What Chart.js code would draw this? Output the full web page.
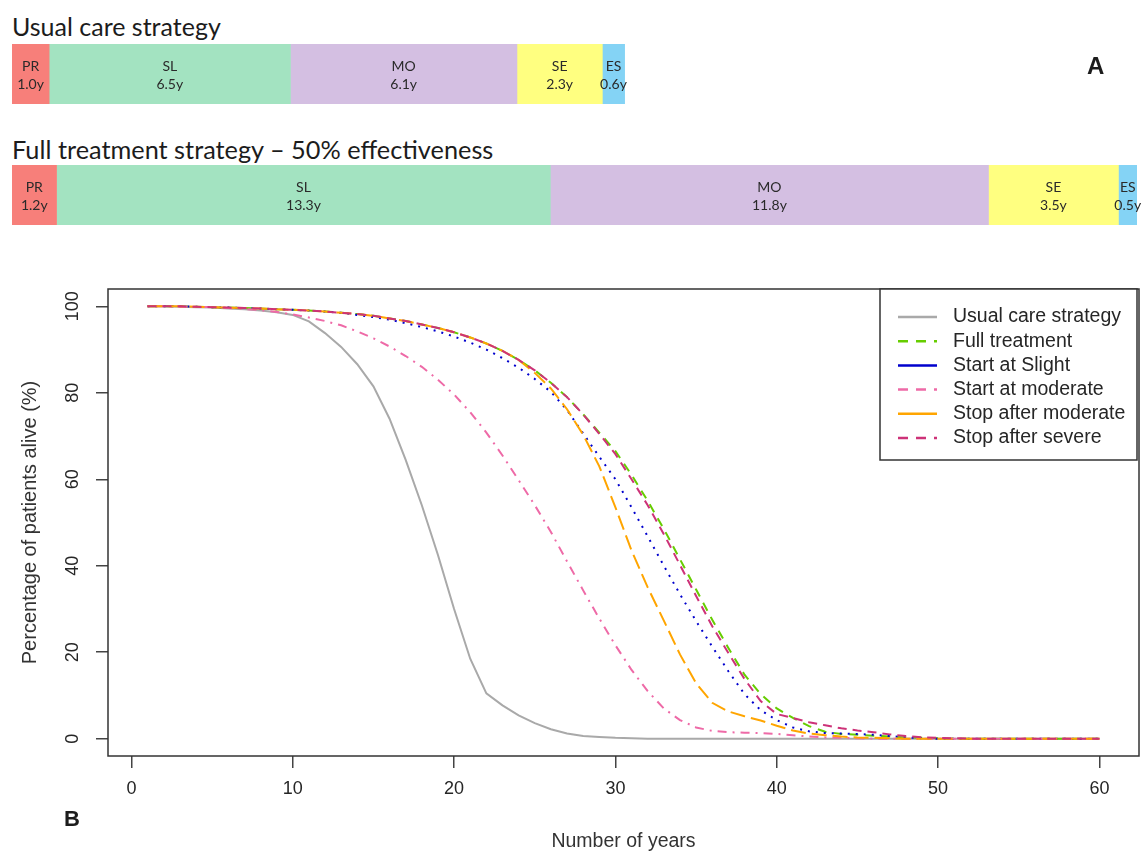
<!DOCTYPE html>
<html><head><meta charset="utf-8">
<script src="https://cdn.jsdelivr.net/npm/chart.js@4.4.1/dist/chart.umd.min.js"></script>
<style>
html,body{margin:0;padding:0;background:#fff;}
#page{position:relative;width:1143px;height:853px;overflow:hidden;background:#fff;}
.t{position:absolute;white-space:nowrap;color:#1c1c1c;line-height:1;}
canvas{position:absolute;}
</style></head><body>
<div id="page">
<div class="t" style="left:12px;top:11px;font:25px Lato;">Usual care strategy</div>
<canvas id="bar1" width="1131" height="60" style="left:12px;top:44px"></canvas>
<div class="t" style="left:12px;top:134px;font:25.3px Lato;">Full treatment strategy – 50% effectiveness</div>
<canvas id="bar2" width="1131" height="60" style="left:12px;top:165px"></canvas>
<div class="t" style="left:1087px;top:52px;font:bold 24px 'Liberation Sans';">A</div>
<canvas id="main" width="1143" height="613" style="left:0;top:240px"></canvas>
<div class="t" style="left:64px;top:806px;font:bold 22px 'Liberation Sans';">B</div>
</div>
<script>
// ---- Panel A data ----
const stages = ['PR', 'SL', 'MO', 'SE', 'ES'];
const usualCareYears = [1.0, 6.5, 6.1, 2.3, 0.6];
const fullTreatmentYears = [1.2, 13.3, 11.8, 3.5, 0.5];
const stageColors = ['#F77F7A', '#A3E3C1', '#D4BFE2', '#FFFF80', '#84D3F5'];

// ---- Panel B data ----
const years = [1,2,3,4,5,6,7,8,9,10,11,12,13,14,15,16,17,18,19,20,21,22,23,24,25,26,27,28,29,30,
  31,32,33,34,35,36,37,38,39,40,41,42,43,44,45,46,47,48,49,50,51,52,53,54,55,56,57,58,59,60];
const xTicks = [0, 10, 20, 30, 40, 50, 60];
const yTicks = [0, 20, 40, 60, 80, 100];
const usualCare = [100,100,99.9,99.8,99.7,99.5,99.3,99.0,98.6,98.0,96.5,93.8,90.6,86.6,81.5,74.0,64.5,54.0,42.5,30.0,
  18.5,10.5,7.7,5.4,3.6,2.2,1.2,0.6,0.4,0.2,0.1,0,0,0,0,0,0,0,0,0,0,0,0,0,0,0,0,0,0,0,0,0,0,0,0,0,0,0,0,0];
const fullTreatment = [100,100,100,99.9,99.8,99.7,99.6,99.5,99.3,99.2,99.0,98.8,98.5,98.2,97.8,97.2,96.6,95.8,95.0,94.0,
  92.8,91.4,89.7,87.6,85.2,82.3,79.0,75.0,70.8,66.5,61.0,55.0,48.5,41.5,34.5,27.5,21.0,14.8,10.3,7.0,
  4.8,2.9,1.6,1.1,0.9,0.7,0.5,0.3,0.2,0.1,0,0,0,0,0,0,0,0,0,0];
const startSlight = [100,100,100,99.9,99.8,99.7,99.6,99.5,99.3,99.2,99.0,98.8,98.5,98.0,97.5,96.9,96.1,95.2,94.2,93.0,
  91.6,90.0,88.0,85.8,83.2,80.2,76.0,70.6,65.2,60.0,53.5,46.8,40.0,33.4,27.2,21.3,15.6,10.3,6.6,4.3,
  2.6,1.7,1.3,1.2,1.1,0.9,0.6,0.3,0.1,0,0,0,0,0,0,0,0,0,0,0];
const startModerate = [100,100,99.9,99.9,99.8,99.6,99.4,99.1,98.7,98.1,97.4,96.6,95.6,94.2,92.6,90.7,88.5,86.0,83.0,79.6,
  75.5,70.8,65.5,59.8,54.0,47.8,41.0,34.3,27.8,21.6,15.9,11.0,7.0,4.3,2.6,1.8,1.5,1.4,1.3,1.1,
  0.8,0.5,0.3,0.2,0.1,0,0,0,0,0,0,0,0,0,0,0,0,0,0,0];
const stopModerate = [100,100,100,99.9,99.8,99.7,99.6,99.5,99.3,99.2,99.0,98.8,98.5,98.2,97.8,97.2,96.6,95.8,95.0,94.0,
  92.8,91.4,89.7,87.6,84.6,81.0,76.2,70.3,63.0,53.5,43.5,35.0,27.3,19.5,12.8,8.3,6.3,5.2,4.2,3.0,
  1.9,1.2,0.8,0.5,0.3,0.2,0.1,0,0,0,0,0,0,0,0,0,0,0,0,0];
const stopSevere = [100,100,100,99.9,99.8,99.7,99.6,99.5,99.3,99.2,99.0,98.8,98.5,98.2,97.8,97.2,96.6,95.8,95.0,94.0,
  92.8,91.4,89.7,87.6,85.2,82.3,79.0,75.0,70.5,65.8,60.0,54.0,47.3,40.2,33.0,26.0,19.8,13.8,8.7,5.7,
  4.8,3.8,3.1,2.4,1.9,1.5,1.0,0.6,0.3,0.2,0.1,0,0,0,0,0,0,0,0,0];
const seriesNames = ['Usual care strategy', 'Full treatment', 'Start at Slight', 'Start at moderate', 'Stop after moderate', 'Stop after severe'];
const seriesValues = [usualCare, fullTreatment, startSlight, startModerate, stopModerate, stopSevere];

// ---- styles ----
const seriesColors = ['#A9A9A9', '#66CD00', '#0000CD', '#EE6AA7', '#FFA500', '#CD3278'];
const seriesDash = [[], [9, 7], [2, 6], [2, 6, 9, 6], [15, 6], [9, 6]];
const legendDash = [[], [10, 8], [], [10, 8], [], [10, 8]];

const stripMax = fullTreatmentYears.reduce((a, b) => a + b, 0);

const segLabels = {
  id: 'segLabels',
  afterDatasetsDraw(chart) {
    const ctx = chart.ctx;
    ctx.save();
    ctx.fillStyle = '#2a2a2a';
    ctx.font = "14px Lato";
    ctx.textAlign = 'center';
    ctx.textBaseline = 'middle';
    chart.data.datasets.forEach((ds, i) => {
      const el = chart.getDatasetMeta(i).data[0];
      const cx = (el.x + el.base) / 2;
      ctx.fillText(ds.label, cx, el.y - 8);
      ctx.fillText(ds.data[0].toFixed(1) + 'y', cx, el.y + 10);
    });
    ctx.restore();
  }
};

function stageChart(id, values) {
  return new Chart(document.getElementById(id), {
    type: 'bar',
    data: {
      labels: [''],
      datasets: stages.map((s, i) => ({
        label: s, data: [values[i]], backgroundColor: stageColors[i],
        borderWidth: 0, barPercentage: 1, categoryPercentage: 1
      }))
    },
    options: {
      indexAxis: 'y', responsive: false, animation: false, events: [],
      layout: { padding: { left: 0, right: 6, top: 0, bottom: 0 } },
      plugins: { legend: { display: false }, tooltip: { enabled: false } },
      scales: {
        x: { stacked: true, min: 0, max: stripMax, display: false },
        y: { stacked: true, display: false }
      }
    },
    plugins: [segLabels]
  });
}
stageChart('bar1', usualCareYears);
stageChart('bar2', fullTreatmentYears);

const frame = {
  id: 'frame',
  afterDatasetsDraw(chart) {
    const { left, top, right, bottom } = chart.chartArea;
    const ctx = chart.ctx;
    ctx.save();
    ctx.strokeStyle = '#333';
    ctx.lineWidth = 1.5;
    ctx.strokeRect(left, top, right - left, bottom - top);
    ctx.restore();
  }
};

const yLabels = {
  id: 'yLabels',
  afterDraw(chart) {
    const s = chart.scales.y, ctx = chart.ctx;
    ctx.save();
    ctx.font = "18px 'Liberation Sans'";
    ctx.fillStyle = '#262626';
    ctx.textAlign = 'center';
    ctx.textBaseline = 'middle';
    s.ticks.forEach(t => {
      const y = s.getPixelForValue(t.value);
      ctx.save();
      ctx.translate(s.right - 35, y);
      ctx.rotate(-Math.PI / 2);
      ctx.fillText(String(t.value), 0, 0);
      ctx.restore();
    });
    ctx.restore();
  }
};

const legendBox = {
  id: 'legendBox',
  afterDraw(chart) {
    const ctx = chart.ctx, ca = chart.chartArea;
    const bx = ca.right - 259, by = ca.top, bw = 257, bh = 171;
    ctx.save();
    ctx.fillStyle = '#fff';
    ctx.fillRect(bx, by, bw, bh);
    ctx.strokeStyle = '#333';
    ctx.lineWidth = 1.5;
    ctx.strokeRect(bx, by, bw, bh);
    ctx.font = "19.5px 'Liberation Sans'";
    ctx.textBaseline = 'middle';
    ctx.textAlign = 'left';
    chart.data.datasets.forEach((ds, i) => {
      const y = by + 28 + i * 24.2;
      ctx.beginPath();
      ctx.setLineDash(legendDash[i]);
      ctx.strokeStyle = ds.borderColor;
      ctx.lineWidth = 2.5;
      ctx.moveTo(bx + 18, y);
      ctx.lineTo(bx + 57, y);
      ctx.stroke();
      ctx.setLineDash([]);
      ctx.fillStyle = '#262626';
      ctx.fillText(ds.label, bx + 73, y);
    });
    ctx.restore();
  }
};

new Chart(document.getElementById('main'), {
  type: 'line',
  data: {
    datasets: seriesNames.map((name, i) => ({
      label: name,
      data: years.map((x, j) => ({ x: x, y: seriesValues[i][j] })),
      borderColor: seriesColors[i],
      backgroundColor: seriesColors[i],
      borderWidth: 2,
      borderDash: seriesDash[i],
      borderCapStyle: 'butt',
      pointRadius: 0,
      tension: 0,
      fill: false,
      order: seriesNames.length - 1 - i
    }))
  },
  options: {
    responsive: false, animation: false, events: [],
    layout: { padding: { top: 49, right: 4, left: 0, bottom: 0 } },
    plugins: { legend: { display: false }, tooltip: { enabled: false } },
    scales: {
      x: {
        type: 'linear', min: -1.45, max: 62.45,
        afterFit(s) { s.height = 97; },
        afterBuildTicks(s) { s.ticks = xTicks.map(v => ({ value: v })); },
        border: { display: false },
        grid: { drawOnChartArea: false, drawTicks: true, tickLength: 12, tickColor: '#444', tickWidth: 1.5, lineWidth: 1.5 },
        ticks: { padding: 10, color: '#262626', font: { family: 'Liberation Sans', size: 18 } },
        title: { display: true, text: 'Number of years', color: '#333', font: { family: 'Liberation Sans', size: 19.5 }, padding: { top: 0, bottom: 0 } }
      },
      y: {
        type: 'linear', min: -4, max: 104,
        afterFit(s) { s.width = 108; },
        afterBuildTicks(s) { s.ticks = yTicks.map(v => ({ value: v })); },
        border: { display: false },
        grid: { drawOnChartArea: false, drawTicks: true, tickLength: 12, tickColor: '#444', tickWidth: 1.5, lineWidth: 1.5 },
        ticks: { display: false },
        title: { display: true, text: 'Percentage of patients alive (%)', color: '#333', font: { family: 'Liberation Sans', size: 20 }, padding: { top: 18, bottom: 0 } }
      }
    }
  },
  plugins: [frame, yLabels, legendBox]
});
</script>
</body></html>
